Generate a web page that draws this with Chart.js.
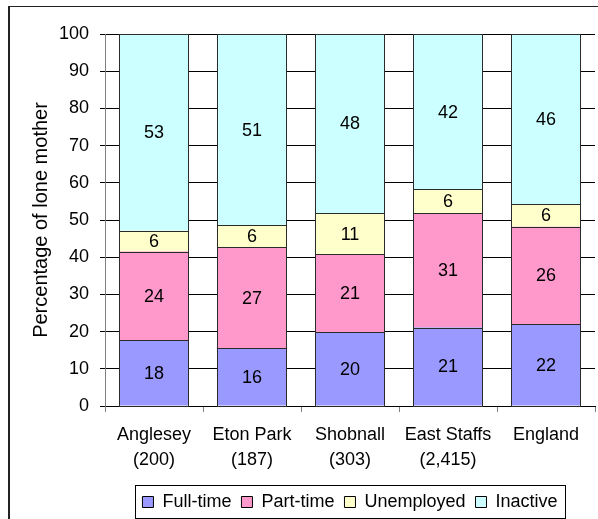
<!DOCTYPE html>
<html>
<head>
<meta charset="utf-8">
<script src="https://cdn.jsdelivr.net/npm/chart.js@4/dist/chart.umd.min.js"></script>
<style>
  html, body { margin: 0; padding: 0; background: #fff; }
  #wrap { width: 598px; height: 519px; }
</style>
</head>
<body>
<div id="wrap"><canvas id="c" width="598" height="519"></canvas></div>
<script>
const categories = [["Anglesey", "(200)"], ["Eton Park", "(187)"], ["Shobnall", "(303)"], ["East Staffs", "(2,415)"], "England"];
const seriesNames = ["Full-time", "Part-time", "Unemployed", "Inactive"];
const fullTime   = [17.7, 15.5, 19.9, 21.1, 22.0];
const partTime   = [23.8, 27.2, 20.9, 30.8, 26.2];
const unemployed = [5.6, 5.9, 11.1, 6.4, 6.1];
const inactive   = [52.9, 51.4, 48.1, 41.7, 45.7];
const yTicks = [0, 10, 20, 30, 40, 50, 60, 70, 80, 90, 100];
const yTitle = "Percentage of lone mother";

const colors = ["#9999FF", "#FF99CC", "#FFFFCC", "#CCFFFF"];
const values = [fullTime, partTime, unemployed, inactive];
const FONT = "'Liberation Sans', Arial, sans-serif";

Chart.defaults.font.family = FONT;
Chart.defaults.font.size = 18;
Chart.defaults.color = "#000";

const framePlugin = {
  id: "frame",
  beforeDraw(chart) {
    const ctx = chart.ctx;
    ctx.save();
    ctx.fillStyle = "#fff";
    ctx.fillRect(0, 0, chart.width, chart.height);
    ctx.strokeStyle = "#222";
    ctx.lineWidth = 1;
    ctx.beginPath();
    ctx.moveTo(8, 6.5); ctx.lineTo(chart.width, 6.5);
    ctx.stroke();
    ctx.lineWidth = 2;
    ctx.beginPath();
    ctx.moveTo(9, 6); ctx.lineTo(9, chart.height);
    ctx.stroke();
    ctx.restore();
  }
};

const legendFitPlugin = {
  id: "legendFit",
  beforeUpdate(chart) {
    const lg = chart.legend;
    if (lg && !lg._patched) {
      const orig = lg.fit;
      lg.fit = function () { orig.call(this); this.height = 36; };
      lg._patched = true;
    }
  },
  afterDraw(chart) {
    const lg = chart.legend;
    if (!lg || !lg.legendHitBoxes || !lg.legendHitBoxes.length) return;
    let minX = Infinity, maxX = -Infinity, minY = Infinity, maxY = -Infinity;
    lg.legendHitBoxes.forEach(h => {
      minX = Math.min(minX, h.left); maxX = Math.max(maxX, h.left + h.width);
      minY = Math.min(minY, h.top); maxY = Math.max(maxY, h.top + h.height);
    });
    const cy = (minY + maxY) / 2;
    const ctx = chart.ctx;
    ctx.save();
    ctx.strokeStyle = "#000";
    ctx.lineWidth = 1;
    ctx.strokeRect(Math.round(minX - 7) + 0.5, Math.round(cy - 17) + 0.5, Math.round(maxX - minX + 15), 33);
    ctx.restore();
  }
};

const barOutlinePlugin = {
  id: "barOutline",
  afterDatasetsDraw(chart) {
    const ctx = chart.ctx;
    ctx.save();
    ctx.strokeStyle = "#2a2a2a";
    ctx.lineWidth = 1;
    chart.data.datasets.forEach((ds, i) => {
      const meta = chart.getDatasetMeta(i);
      meta.data.forEach((bar) => {
        const p = bar.getProps(["x", "y", "base", "width"], true);
        const left = Math.round(p.x - p.width / 2);
        const right = Math.round(p.x + p.width / 2);
        const top = Math.round(Math.min(p.y, p.base));
        const bottom = Math.round(Math.max(p.y, p.base));
        ctx.strokeRect(left + 0.5, top + 0.5, right - left - 1, bottom - top);
      });
    });
    ctx.restore();
  }
};

const segLabelPlugin = {
  id: "segLabels",
  afterDatasetsDraw(chart) {
    const ctx = chart.ctx;
    ctx.save();
    ctx.font = "18px " + FONT;
    ctx.fillStyle = "#000";
    ctx.textAlign = "center";
    ctx.textBaseline = "middle";
    chart.data.datasets.forEach((ds, i) => {
      const meta = chart.getDatasetMeta(i);
      meta.data.forEach((bar, j) => {
        const p = bar.getProps(["x", "y", "base"], true);
        ctx.fillText(String(Math.round(ds.data[j])), p.x, (p.y + p.base) / 2 + 1);
      });
    });
    ctx.restore();
  }
};

new Chart(document.getElementById("c"), {
  type: "bar",
  data: {
    labels: categories,
    datasets: seriesNames.map((name, i) => ({
      label: name,
      data: values[i],
      backgroundColor: colors[i],
      borderColor: "#2a2a2a",
      borderWidth: 0,
      inflateAmount: 0,
      categoryPercentage: 1.0,
      barPercentage: 70 / 98
    }))
  },
  options: {
    responsive: false,
    animation: false,
    layout: { padding: { left: 0, right: 3, top: 34, bottom: 0 } },
    plugins: {
      tooltip: { enabled: false },
      legend: {
        position: "bottom",
        fullSize: false,
        labels: {
          boxWidth: 11,
          boxHeight: 11,
          padding: 10,
          color: "#000",
          font: { size: 18 },
          generateLabels(chart) {
            return Chart.defaults.plugins.legend.labels.generateLabels(chart)
              .map(l => Object.assign(l, { lineWidth: 1, strokeStyle: "#000" }));
          }
        }
      }
    },
    scales: {
      x: {
        stacked: true,
        grid: {
          display: true,
          offset: true,
          drawOnChartArea: false,
          drawTicks: true,
          tickLength: 6,
          tickColor: "#808080"
        },
        border: { display: true, color: "#000", width: 1 },
        ticks: {
          padding: 11,
          maxRotation: 0,
          autoSkip: false,
          color: "#000",
          font: { size: 18, lineHeight: 25 / 18 }
        },
        afterFit(scale) { scale.height = 77; }
      },
      y: {
        stacked: true,
        min: 0,
        max: 100,
        afterBuildTicks(scale) { scale.ticks = yTicks.map(v => ({ value: v })); },
        grid: {
          color: "#000",
          tickLength: 5,
          drawTicks: true
        },
        border: { display: true, color: "#808080", width: 1 },
        ticks: {
          padding: 11,
          color: "#000",
          font: { size: 18 }
        },
        title: {
          display: true,
          text: yTitle,
          color: "#000",
          font: { size: 20 },
          padding: { top: 29, bottom: 0 }
        },
        afterFit(scale) { scale.width = 105; }
      }
    }
  },
  plugins: [framePlugin, legendFitPlugin, barOutlinePlugin, segLabelPlugin]
});
</script>
</body>
</html>
